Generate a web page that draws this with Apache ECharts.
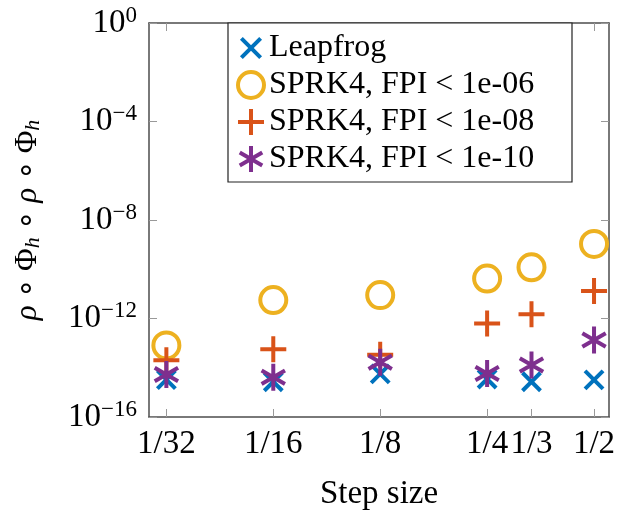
<!DOCTYPE html>
<html>
<head>
<meta charset="utf-8">
<script src="https://cdn.jsdelivr.net/npm/echarts@6/dist/echarts.min.js"></script>
<style>
  html, body { margin: 0; padding: 0; background: #fff; }
  #chart { width: 619px; height: 516px; }
</style>
</head>
<body>
<div id="chart"></div>
<script>
// Step sizes (x) and their tick labels
const stepSizes = [1/32, 1/16, 1/8, 1/4, 1/3, 1/2];
const stepLabels = ['1/32', '1/16', '1/8', '1/4', '1/3', '1/2'];

// Error values per method
const leapfrog   = [3.3e-15, 2.7e-15, 5.6e-15, 3.5e-15, 2.7e-15, 3.2e-15];
const sprk4Fpi6  = [8.1e-14, 5.6e-12, 8.9e-12, 4.2e-11, 1.2e-10, 1.07e-9];
const sprk4Fpi8  = [2.0e-14, 5.7e-14, 3.4e-14, 6.2e-13, 1.5e-12, 1.3e-11];
const sprk4Fpi10 = [5.3e-15, 4.1e-15, 1.66e-14, 5.8e-15, 1.3e-14, 1.35e-13];

const seriesNames = ['Leapfrog', 'SPRK4, FPI < 1e-06', 'SPRK4, FPI < 1e-08', 'SPRK4, FPI < 1e-10'];

const FONT = '"Liberation Serif", "Times New Roman", serif';
const AX = '#4d4d4d';
const TICK = '#999999';
const STROKE = 4;

const COLORS = ['#0072BD', '#EDB120', '#D95319', '#7E2F8E'];

// Marker shapes (stroked outlines)
const CROSS = 'path://M0,0L100,100M100,0L0,100';
const PLUS = 'path://M50,0L50,100M0,50L100,50';
const ASTER = 'path://M0,0M100,100M50,0L50,100M6.7,25L93.3,75M6.7,75L93.3,25';
const CROSS_ICON = 'path://M0,0M100,100M13,13L87,87M87,13L13,87';

function pairs(values) {
  return stepSizes.map((h, i) => [h, values[i]]);
}

function labelFor(v) {
  let best = 0;
  for (let i = 1; i < stepSizes.length; i++) {
    if (Math.abs(Math.log(stepSizes[i] / v)) < Math.abs(Math.log(stepSizes[best] / v))) best = i;
  }
  return stepLabels[best];
}

function pow10Label(v) {
  const e = Math.round(Math.log10(v));
  return '{b|10}{s|' + (e < 0 ? '\u2212' + (-e) : String(e)) + '}';
}

const xMin = Math.pow(2, -5.1625);
const xMax = Math.pow(2, -0.86);

const xCommon = {
  type: 'log',
  logBase: 2,
  min: xMin,
  max: xMax,
  splitLine: { show: false },
  axisLine: { show: true, lineStyle: { color: AX, width: 1.5 } }
};

const yCommon = {
  type: 'log',
  logBase: 10,
  min: 1e-16,
  max: 1,
  interval: 4,
  splitLine: { show: false },
  minorTick: { show: false },
  axisLine: { show: true, lineStyle: { color: AX, width: 1.5 } }
};

function scatter(name, values, symbol, size, color) {
  return {
    name: name,
    type: 'scatter',
    data: pairs(values),
    symbol: symbol,
    symbolSize: size,
    symbolKeepAspect: true,
    itemStyle: { color: 'rgba(0,0,0,0)', borderColor: color, borderWidth: STROKE, opacity: 1 },
    emphasis: { disabled: true },
    animation: false
  };
}

const chart = echarts.init(document.getElementById('chart'), null, { renderer: 'canvas' });

chart.setOption({
  backgroundColor: '#ffffff',
  animation: false,
  grid: { left: 149, top: 23, width: 460, height: 396, containLabel: false },
  xAxis: [
    Object.assign({}, xCommon, {
      position: 'bottom',
      name: 'Step size',
      nameLocation: 'middle',
      nameGap: 61,
      nameTextStyle: { fontFamily: FONT, fontSize: 33, color: '#000' },
      axisTick: { show: true, inside: true, length: 8, lineStyle: { color: TICK, width: 1 }, customValues: stepSizes },
      axisLabel: {
        show: true, margin: 11, fontFamily: FONT, fontSize: 33, color: '#000',
        customValues: stepSizes, formatter: labelFor
      }
    }),
    Object.assign({}, xCommon, {
      position: 'top',
      axisTick: { show: true, inside: true, length: 8, lineStyle: { color: TICK, width: 1 }, customValues: stepSizes },
      axisLabel: { show: false, customValues: stepSizes }
    })
  ],
  yAxis: [
    Object.assign({}, yCommon, {
      position: 'left',
      name: '{i|\u03c1}{n| \u2218 \u03a6}{sub|h}{n| \u2218 }{i|\u03c1}{n| \u2218 \u03a6}{sub|h}',
      nameLocation: 'middle',
      nameRotate: 90,
      nameGap: 105,
      nameTextStyle: {
        fontFamily: FONT, fontSize: 31, color: '#000',
        rich: {
          i: { fontFamily: FONT, fontSize: 31, fontStyle: 'italic', color: '#000' },
          n: { fontFamily: FONT, fontSize: 31, color: '#000' },
          sub: { fontFamily: FONT, fontSize: 22, fontStyle: 'italic', color: '#000', verticalAlign: 'top', padding: [10, 0, 0, 0] }
        }
      },
      axisTick: { show: true, inside: true, length: 8, lineStyle: { color: TICK, width: 1 } },
      axisLabel: {
        show: true, margin: 12, color: '#000',
        formatter: pow10Label,
        rich: {
          b: { fontFamily: FONT, fontSize: 33, color: '#000' },
          s: { fontFamily: FONT, fontSize: 23, color: '#000', verticalAlign: 'bottom', padding: [0, 0, 15, 0] }
        }
      }
    }),
    Object.assign({}, yCommon, {
      position: 'right',
      axisTick: { show: true, inside: true, length: 8, lineStyle: { color: TICK, width: 1 } },
      axisLabel: { show: false }
    })
  ],
  legend: {
    orient: 'vertical',
    left: 228,
    top: 23,
    padding: [9, 15, 7, 8],
    itemGap: 5,
    itemWidth: 26,
    itemHeight: 26,
    backgroundColor: '#ffffff',
    borderColor: '#222222',
    borderWidth: 1.2,
    borderRadius: 0,
    selectedMode: false,
    itemStyle: { borderWidth: STROKE },
    textStyle: { fontFamily: FONT, fontSize: 32, color: '#000', lineHeight: 30, width: 288 },
    data: [
      { name: seriesNames[0], icon: CROSS_ICON },
      { name: seriesNames[1], icon: 'circle' },
      { name: seriesNames[2], icon: PLUS },
      { name: seriesNames[3], icon: ASTER }
    ]
  },
  series: [
    scatter(seriesNames[0], leapfrog, CROSS, 18, COLORS[0]),
    scatter(seriesNames[1], sprk4Fpi6, 'circle', 26, COLORS[1]),
    scatter(seriesNames[2], sprk4Fpi8, PLUS, 26, COLORS[2]),
    scatter(seriesNames[3], sprk4Fpi10, ASTER, 27, COLORS[3])
  ]
});
</script>
</body>
</html>
